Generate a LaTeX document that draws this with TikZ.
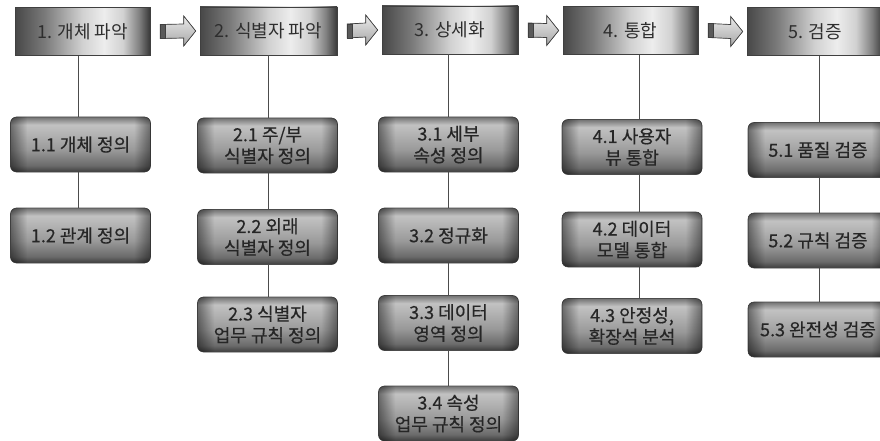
\documentclass[tikz,border=0pt]{standalone}
\usepackage{fontspec}
\setmainfont{Noto Sans CJK KR}
\newfontfamily\krsub{Noto Sans CJK KR}[FakeBold=0.45]
\usetikzlibrary{calc,fadings,backgrounds}
% shadings: the path bounding box maps onto 25bp..75bp
\pgfdeclarehorizontalshading{topmetal}{100bp}{color(0bp)=(black!72); color(25bp)=(black!72); color(36bp)=(black!52); color(50bp)=(black!18); color(58bp)=(black!7); color(65bp)=(black!18); color(71bp)=(black!50); color(75bp)=(black!78); color(100bp)=(black!78)}
\pgfdeclareverticalshading{subv}{100bp}{color(0bp)=(black!76); color(25bp)=(black!76); color(31bp)=(black!58); color(45bp)=(black!40); color(62bp)=(black!28); color(68bp)=(black!24); color(75bp)=(black!55); color(100bp)=(black!55)}
\pgfdeclarehorizontalshading{edgeshade}{100bp}{color(0bp)=(white); color(25bp)=(white); color(31bp)=(black); color(69bp)=(black); color(75bp)=(white); color(100bp)=(white)}
\pgfdeclarefading{edgefade}{\pgfuseshading{edgeshade}}
\tikzset{
  topbox/.style={shade, shading=topmetal, draw=black!75, line width=0.6pt,
    minimum width=136pt, minimum height=48pt, inner sep=0pt,
    text=black!82, font=\fontsize{18}{21}\selectfont},
  subbox/.style={shade, shading=subv, draw=black!70, line width=0.6pt,
    rounded corners=6pt, minimum width=140pt, minimum height=55pt, inner sep=0pt,
    align=center, text=black!85, font=\krsub\fontsize{18}{21.5}\selectfont,
    postaction={fill=black, fill opacity=0.45, path fading=edgefade, fit fading=true}},
  conn/.style={draw=black!70, line width=0.8pt},
  shadowc/.style={fill=black!20},
  arrowbody/.style={draw=black!75, line width=0.7pt, top color=black!8, bottom color=black!35},
  arrowcap/.style={fill=black!65}
}
\newcommand\blkarrow[2]{%
  \filldraw[arrowbody] ($(#1.east)+(10,-7)$) -- ($(#2.west)+(-16,-7)$) -- ($(#2.west)+(-16,-15)$)
    -- ($(#2.west)+(-4,0)$) -- ($(#2.west)+(-16,15)$) -- ($(#2.west)+(-16,7)$)
    -- ($(#1.east)+(10,7)$) -- cycle;
  \filldraw[arrowcap, draw=black!75, line width=0.7pt] ($(#1.east)+(10,-7)$) rectangle ($(#1.east)+(15,7)$);
}
\begin{document}
\begin{tikzpicture}[x=1pt,y=-1pt]
\useasboundingbox (0,0) rectangle (880,441);
\fill[white] (0,0) rectangle (880,441);
\clip (0,0) rectangle (880,441);

% column connector positions
\coordinate (c1) at (78,0);
\coordinate (c2) at (268,0);
\coordinate (c3) at (448,0);
\coordinate (c4) at (639,0);
\coordinate (c5) at (819,0);

% top row
\node[topbox, minimum width=135pt] (t1) at (82.5,31.5) {1. 개체 파악};
\node[topbox, minimum width=137pt] (t2) at (268.5,31) {2. 식별자 파악};
\node[topbox] (t3) at (450,30) {3. 상세화};
\node[topbox, minimum width=135pt] (t4) at (630.5,30.5) {4. 통합};
\node[topbox] (t5) at (815,31.5) {5. 검증};

\begin{scope}[on background layer]
  \foreach \t in {t1,t2,t3,t4,t5}
    \fill[shadowc] ([shift={(7,8)}]\t.south west) rectangle ([shift={(7,8)}]\t.north east);
\end{scope}

% sub boxes
\node[subbox] (s11) at (80.5,144.5) {1.1 개체 정의};
\node[subbox] (s12) at (80.5,235.5) {1.2 관계 정의};

\node[subbox] (s21) at (267.5,145.5) {2.1 주/부\\식별자 정의};
\node[subbox] (s22) at (267.5,237) {2.2 외래\\식별자 정의};
\node[subbox] (s23) at (267.5,324.5) {2.3 식별자\\업무 규칙 정의};

\node[subbox] (s31) at (448.5,144.5) {3.1 세부\\속성 정의};
\node[subbox] (s32) at (448.5,235.5) {3.2 정규화};
\node[subbox] (s33) at (448.5,323) {3.3 데이터\\영역 정의};
\node[subbox] (s34) at (448.5,413.5) {3.4 속성\\업무 규칙 정의};

\node[subbox] (s41) at (632,147) {4.1 사용자\\뷰 통합};
\node[subbox] (s42) at (632,239.5) {4.2 데이터\\모델 통합};
\node[subbox] (s43) at (632,326) {4.3 안정성,\\확장석 분석};

\node[subbox] (s51) at (818,150) {5.1 품질 검증};
\node[subbox] (s52) at (818,240.5) {5.2 규칙 검증};
\node[subbox] (s53) at (818,329.5) {5.3 완전성 검증};

% connectors
\draw[conn] (t1.south -| c1) -- (s11.north -| c1);
\draw[conn] (s11.south -| c1) -- (s12.north -| c1);
\draw[conn] (t2.south -| c2) -- (s21.north -| c2);
\draw[conn] (s21.south -| c2) -- (s22.north -| c2);
\draw[conn] (s22.south -| c2) -- (s23.north -| c2);
\draw[conn] (t3.south -| c3) -- (s31.north -| c3);
\draw[conn] (s31.south -| c3) -- (s32.north -| c3);
\draw[conn] (s32.south -| c3) -- (s33.north -| c3);
\draw[conn] (s33.south -| c3) -- (s34.north -| c3);
\draw[conn] (t4.south -| c4) -- (s41.north -| c4);
\draw[conn] (s41.south -| c4) -- (s42.north -| c4);
\draw[conn] (s42.south -| c4) -- (s43.north -| c4);
\draw[conn] (t5.south -| c5) -- (s51.north -| c5);
\draw[conn] (s51.south -| c5) -- (s52.north -| c5);
\draw[conn] (s52.south -| c5) -- (s53.north -| c5);

% block arrows
\blkarrow{t1}{t2}
\blkarrow{t2}{t3}
\blkarrow{t3}{t4}
\blkarrow{t4}{t5}
\end{tikzpicture}
\end{document}
